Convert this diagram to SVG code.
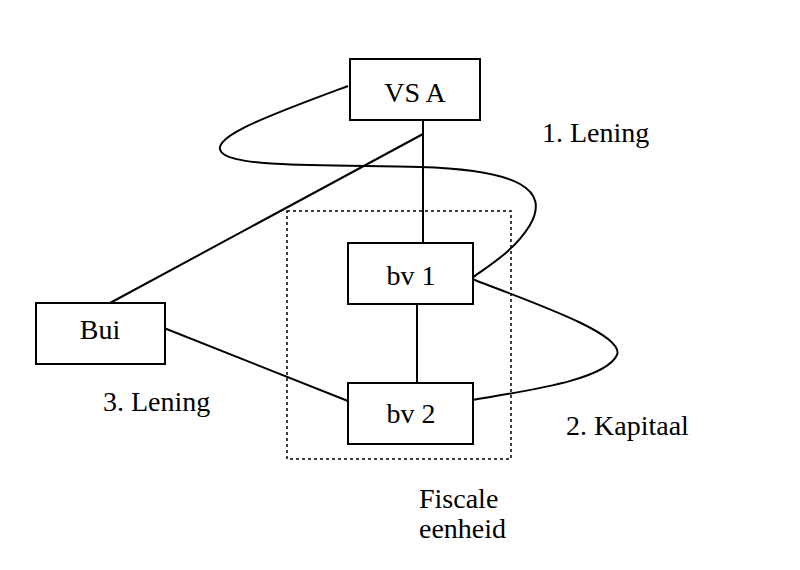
<svg xmlns="http://www.w3.org/2000/svg" width="800" height="570" viewBox="0 0 800 570">
<style>
.box{fill:#fff;stroke:#000;stroke-width:2}
.ln{fill:none;stroke:#000;stroke-width:2}
.t{font-family:"Liberation Serif","DejaVu Serif",serif;font-size:28px;fill:#000}
.c{text-anchor:middle}
</style>
<rect width="800" height="570" fill="#fff"/>
<rect id="fiscale-eenheid" x="287" y="211" width="224" height="248" fill="none" stroke="#000" stroke-width="1.5" stroke-dasharray="3,3"/>
<g id="connectors">
<line class="ln" x1="423" y1="120" x2="423" y2="243"/>
<line class="ln" x1="417" y1="304" x2="417" y2="383"/>
<line class="ln" x1="110" y1="303" x2="423" y2="134"/>
<line class="ln" x1="164" y1="328" x2="348" y2="401"/>
<path class="ln" d="M348,86 C270,115 200,140 225,155 C245,167 330,165 420,167 C520,170 550,190 530,225 C515,250 490,265 472,278"/>
<path class="ln" d="M472,279 C540,305 625,335 617,355 C605,380 530,390 473,400"/>
</g>
<g id="vsa"><rect class="box" x="350" y="59" width="130" height="61"/><text class="t c" x="415" y="102">VS A</text></g>
<g id="bv1"><rect class="box" x="348" y="243" width="125" height="61"/><text class="t c" x="411" y="285">bv 1</text></g>
<g id="bv2"><rect class="box" x="348" y="383" width="125" height="61"/><text class="t c" x="411" y="423">bv 2</text></g>
<g id="bui"><rect class="box" x="36" y="303" width="129" height="61"/><text class="t c" x="100" y="339">Bui</text></g>
<text class="t" x="542" y="142">1. Lening</text>
<text class="t" x="566" y="435">2. Kapitaal</text>
<text class="t" x="103" y="411">3. Lening</text>
<text class="t" x="419" y="508">Fiscale</text>
<text class="t" x="419" y="538">eenheid</text>
</svg>
